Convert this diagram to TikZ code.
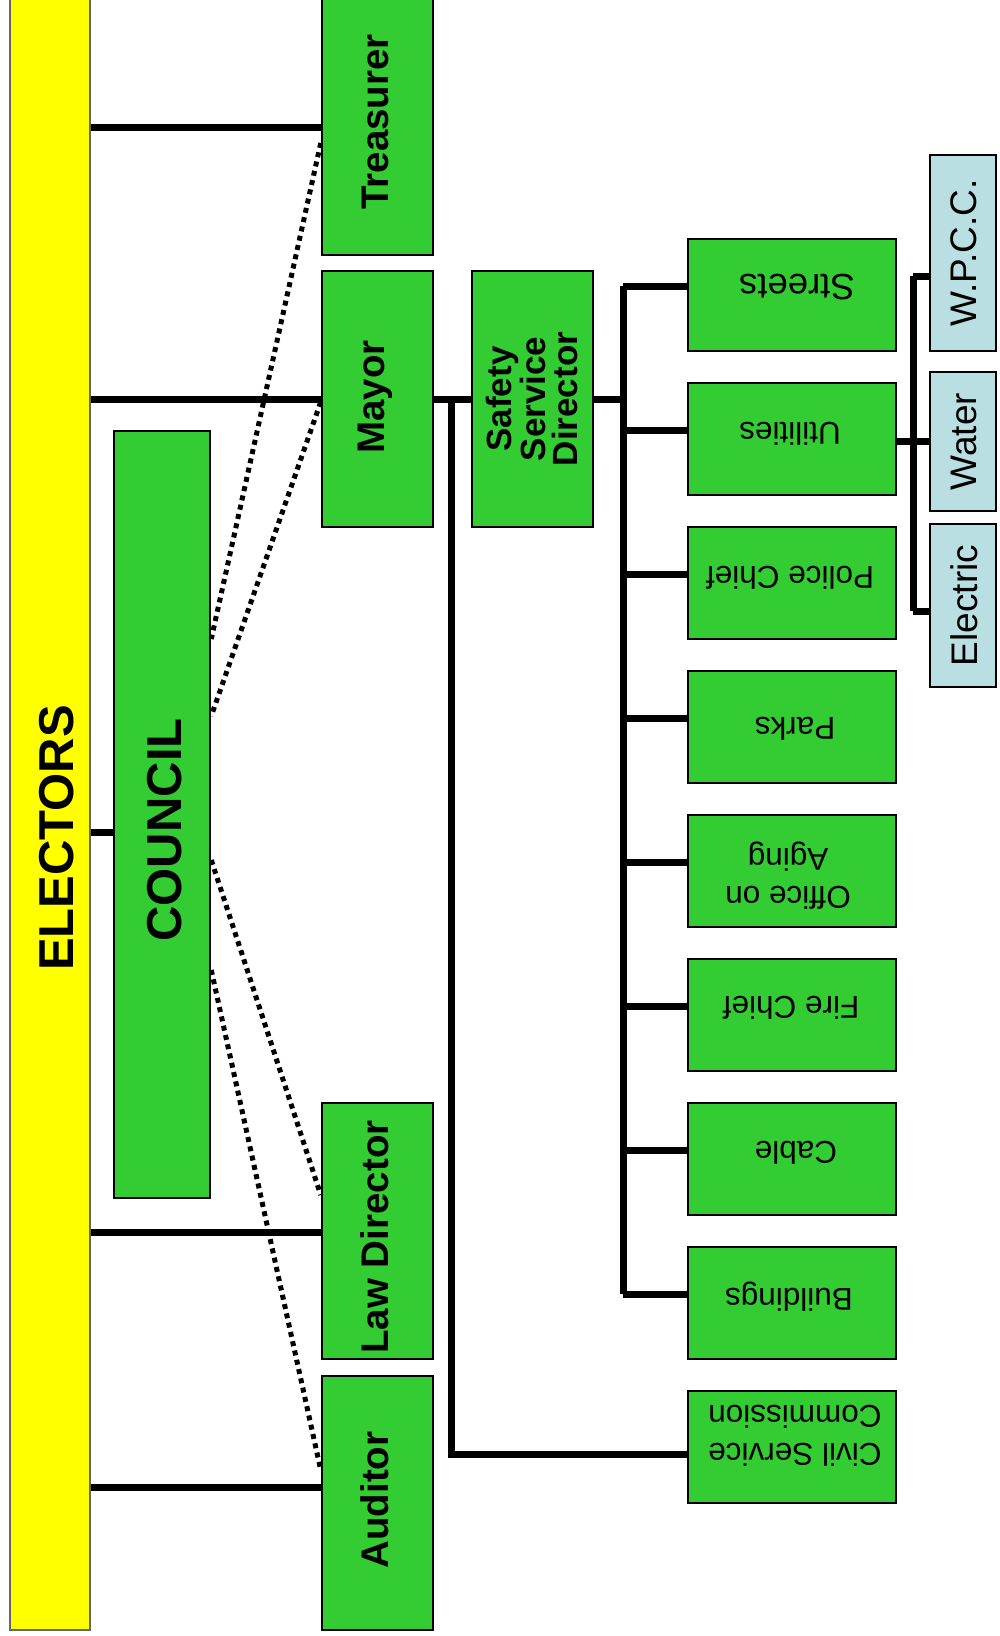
\documentclass[tikz,border=0pt]{standalone}
\usepackage{fontspec}
\setmainfont{Liberation Sans}
\definecolor{boxgreen}{RGB}{51,204,51}
\definecolor{elyellow}{RGB}{255,255,0}
\definecolor{paleblue}{RGB}{185,223,227}
\begin{document}
\begin{tikzpicture}[x=1pt,y=-1pt,
  gbox/.style={draw=black, line width=2.5pt, fill=boxgreen, rectangle, inner sep=0pt},
  bbox/.style={draw=black, line width=2.5pt, fill=paleblue, rectangle, inner sep=0pt, minimum width=66pt},
  rbox/.style={gbox, minimum width=208pt, minimum height=112pt},
  lbox/.style={gbox, minimum width=111pt},
  conn/.style={line width=7pt},
  dotline/.style={line width=5pt, dash pattern=on 5pt off 4.5pt},
  rtext/.style={font=\fontsize{31.5}{38}\selectfont, align=center, rotate=180, inner sep=0pt},
  btext/.style={font=\fontsize{37}{40}\selectfont, rotate=90, inner sep=0pt},
  ltext/.style={font=\fontsize{38.5}{40}\selectfont\bfseries, rotate=90, inner sep=0pt}]
\useasboundingbox (0,0) rectangle (999,1636);
\fill[white] (0,0) rectangle (999,1636);

% boxes
\node[draw=black!60, line width=1.5pt, fill=elyellow, rectangle, inner sep=0pt, minimum width=80pt, minimum height=1635pt] (electors) at (50,812.5) {};
\node[font=\fontsize{49}{50}\selectfont\bfseries, rotate=90, inner sep=0pt] (electorstext) at (57,838) {ELECTORS};

\node[lbox, minimum height=266pt] (treasurer) at (377.5,122) {};
\node[lbox, minimum height=256pt] (mayor) at (377.5,399) {};
\node[lbox, minimum height=256pt] (lawdir) at (377.5,1231) {};
\node[lbox, minimum height=254pt] (auditor) at (377.5,1503) {};
\node[gbox, minimum width=96pt, minimum height=767pt] (council) at (162,814.5) {};
\node[gbox, minimum width=121pt, minimum height=256pt] (safety) at (532.5,399) {};

\node[ltext] (treasurertext) at (375,122) {Treasurer};
\node[ltext] (mayortext) at (375,397) {Mayor};
\node[ltext] (lawdirtext) at (375,1237) {Law Director};
\node[ltext] (auditortext) at (375,1500) {Auditor};
\node[font=\fontsize{49}{50}\selectfont\bfseries, rotate=90, inner sep=0pt] (counciltext) at (165,830) {COUNCIL};
\node[font=\fontsize{35}{32.5}\selectfont\bfseries, rotate=90, align=center, inner sep=0pt] (safetytext) at (532,399) {Safety\\Service\\Director};

\node[rbox] (streets) at (792,295) {};
\node[rbox] (utilities) at (792,439) {};
\node[rbox] (police) at (792,583) {};
\node[rbox] (parks) at (792,727) {};
\node[rbox] (aging) at (792,871) {};
\node[rbox] (fire) at (792,1015) {};
\node[rbox] (cable) at (792,1159) {};
\node[rbox] (buildings) at (792,1303) {};
\node[rbox] (civil) at (792,1447) {};

\node[rtext, font=\fontsize{36.5}{40}\selectfont] (streetstext) at (797,287) {Streets};
\node[rtext] (utilitiestext) at (790,434) {Utilities};
\node[rtext] (policetext) at (790,578) {Police Chief};
\node[rtext] (parkstext) at (795,729) {Parks};
\node[rtext] (agingtext) at (788,876) {Office on\\Aging};
\node[rtext] (firetext) at (791,1008) {Fire Chief};
\node[rtext] (cabletext) at (796,1153) {Cable};
\node[rtext] (buildingstext) at (789,1297) {Buildings};
\node[rtext] (civiltext) at (795,1436) {Civil Service\\Commission};

\node[bbox, minimum height=196pt] (wpcc) at (963,253) {};
\node[bbox, minimum height=139pt] (water) at (963,441.5) {};
\node[bbox, minimum height=163pt] (electric) at (963,605.5) {};
\node[btext] (wpcctext) at (964,253) {W.P.C.C.};
\node[btext] (watertext) at (964,441.5) {Water};
\node[btext] (electrictext) at (964,605.5) {Electric};

% junction coordinates
\coordinate (yt) at (0,127);
\coordinate (ym) at (0,399);
\coordinate (yc) at (0,832);
\coordinate (yl) at (0,1232);
\coordinate (ya) at (0,1487);
\coordinate (jm) at (451,399);
\coordinate (jcs) at (451,1454);
\coordinate (bus) at (623,399);
\coordinate (bustop) at (623,286);
\coordinate (busbot) at (623,1294);
\coordinate (ub) at (913,441);
\coordinate (ubtop) at (913,276);
\coordinate (ubbot) at (913,611);

% solid connectors
\draw[conn] (electors.east |- yt) -- (treasurer.west |- yt);
\draw[conn] (electors.east |- ym) -- (mayor.west |- ym);
\draw[conn] (electors.east |- yc) -- (council.west |- yc);
\draw[conn] (electors.east |- yl) -- (lawdir.west |- yl);
\draw[conn] (electors.east |- ya) -- (auditor.west |- ya);
\draw[conn] (mayor.east |- ym) -- (safety.west |- ym);
\draw[conn] (jm) -- (jcs) -- (civil.west |- jcs);
\draw[conn] (safety.east |- bus) -- (bus);
\draw[conn] (bustop) -- (busbot);
\foreach \n/\yy in {streets/286, utilities/430, police/574, parks/718, aging/862, fire/1006, cable/1150, buildings/1294}{
  \draw[conn] (623,\yy) -- (\n.west |- 0,\yy);
}
\draw[conn] (utilities.east |- ub) -- (ub);
\draw[conn] (ubtop) -- (ubbot);
\draw[conn] (ubtop) -- (wpcc.west |- ubtop);
\draw[conn] (ub) -- (water.west |- ub);
\draw[conn] (ubbot) -- (electric.west |- ubbot);

% dotted connectors
\coordinate (d1a) at (0,143);
\coordinate (d1b) at (0,639);
\coordinate (d2a) at (0,402);
\coordinate (d2b) at (0,716);
\coordinate (d3a) at (0,860);
\coordinate (d3b) at (0,1195);
\coordinate (d4a) at (0,970);
\coordinate (d4b) at (0,1470);
\draw[dotline] (treasurer.west |- d1a) -- (council.east |- d1b);
\draw[dotline] (mayor.west |- d2a) -- (council.east |- d2b);
\draw[dotline] (council.east |- d3a) -- (lawdir.west |- d3b);
\draw[dotline] (council.east |- d4a) -- (auditor.west |- d4b);
\end{tikzpicture}
\end{document}
